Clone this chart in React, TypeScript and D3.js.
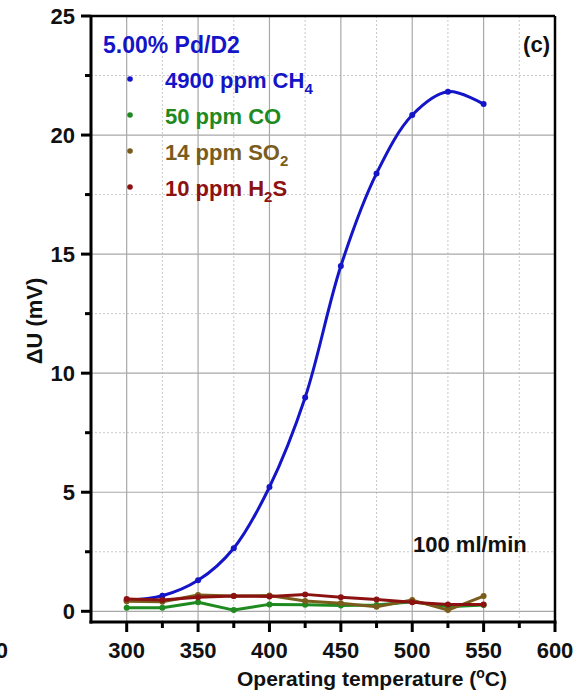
import React from "react";
import * as d3 from "d3";

const temps = [300, 325, 350, 375, 400, 425, 450, 475, 500, 525, 550];
const ch4 = [0.45, 0.65, 1.3, 2.65, 5.22, 8.98, 14.5, 18.39, 20.84, 21.82, 21.3];
const co = [0.15, 0.15, 0.38, 0.05, 0.29, 0.27, 0.24, 0.26, 0.4, 0.19, 0.26];
const so2 = [0.42, 0.4, 0.68, 0.64, 0.66, 0.43, 0.34, 0.19, 0.47, 0.05, 0.64];
const h2s = [0.52, 0.47, 0.59, 0.64, 0.62, 0.71, 0.59, 0.5, 0.38, 0.29, 0.29];

const xTicks = [300, 350, 400, 450, 500, 550, 600];
const xMinor = [325, 375, 425, 475, 525, 575];
const yTicks = [0, 5, 10, 15, 20, 25];
const yMinor = [2.5, 7.5, 12.5, 17.5, 22.5];

const series = [
  { name: "4900 ppm CH", sub: "4", tail: "", values: ch4, color: "#1414c8", smooth: true },
  { name: "50 ppm CO", sub: "", tail: "", values: co, color: "#1f8a1f", smooth: false },
  { name: "14 ppm SO", sub: "2", tail: "", values: so2, color: "#7a5c1c", smooth: false },
  { name: "10 ppm H", sub: "2", tail: "S", values: h2s, color: "#8c1212", smooth: false },
];

const W = 588;
const H = 697;
const left = 91, right = 555, top = 16, bottom = 622;
const font = "'Liberation Sans', Arial, sans-serif";

export default function App() {
  const x = d3.scaleLinear().domain([275, 600]).range([left, right]);
  const y = d3.scaleLinear().domain([-0.45, 25]).range([bottom, top]);

  const drawOrder = [0, 1, 2, 3];

  return (
    <svg width={W} height={H} style={{ position: "absolute", left: 0, top: 0, background: "#fff" }}
      fontFamily={font} fontWeight="bold">
      {/* grid */}
      {xMinor.map(t => (
        <line key={"xm" + t} x1={x(t)} x2={x(t)} y1={top} y2={bottom} stroke="#c8c8c8" strokeWidth={1} strokeDasharray="2,2" />
      ))}
      {yMinor.map(t => (
        <line key={"ym" + t} x1={left} x2={right} y1={y(t)} y2={y(t)} stroke="#c8c8c8" strokeWidth={1} strokeDasharray="2,2" />
      ))}
      {xTicks.filter(t => t < 600).map(t => (
        <line key={"xg" + t} x1={x(t)} x2={x(t)} y1={top} y2={bottom} stroke="#a8a8a8" strokeWidth={1.2} />
      ))}
      {yTicks.filter(t => t < 25).map(t => (
        <line key={"yg" + t} x1={left} x2={right} y1={y(t)} y2={y(t)} stroke="#a8a8a8" strokeWidth={1.2} />
      ))}

      {/* series */}
      {drawOrder.map(i => {
        const s = series[i];
        const pts: [number, number][] = temps.map((t, j) => [x(t), y(s.values[j])]);
        const line = d3.line().curve(s.smooth ? d3.curveCatmullRom.alpha(0.5) : d3.curveLinear)(pts) || "";
        return (
          <g key={"s" + i}>
            <path d={line} fill="none" stroke={s.color} strokeWidth={3} strokeLinejoin="round" />
            {pts.map((p, j) => (
              <circle key={j} cx={p[0]} cy={p[1]} r={3} fill={s.color} />
            ))}
          </g>
        );
      })}

      {/* frame */}
      <line x1={left} x2={right} y1={top} y2={top} stroke="#000" strokeWidth={2.5} />
      <line x1={right} x2={right} y1={top} y2={bottom} stroke="#000" strokeWidth={2.5} />
      <line x1={left} x2={left} y1={top - 1} y2={bottom + 1.5} stroke="#000" strokeWidth={3} />
      <line x1={left - 1.5} x2={right + 1.5} y1={bottom} y2={bottom} stroke="#000" strokeWidth={3} />

      {/* x ticks */}
      {xTicks.map(t => (
        <g key={"xt" + t}>
          <line x1={x(t)} x2={x(t)} y1={bottom} y2={bottom + 10} stroke="#000" strokeWidth={3} />
          <text x={x(t)} y={658} textAnchor="middle" fontSize={22} fill="#111">{t}</text>
        </g>
      ))}
      {xMinor.map(t => (
        <line key={"xmt" + t} x1={x(t)} x2={x(t)} y1={bottom} y2={bottom + 6} stroke="#000" strokeWidth={3} />
      ))}

      {/* y ticks */}
      {yTicks.map(t => (
        <g key={"yt" + t}>
          <line x1={left - 10} x2={left} y1={y(t)} y2={y(t)} stroke="#000" strokeWidth={3} />
          <text x={75} y={y(t) + 8} textAnchor="end" fontSize={22} fill="#111">{t}</text>
        </g>
      ))}
      {yMinor.map(t => (
        <line key={"ymt" + t} x1={left - 6} x2={left} y1={y(t)} y2={y(t)} stroke="#000" strokeWidth={3} />
      ))}

      {/* axis titles */}
      <text x={372} y={686} textAnchor="middle" fontSize={21} fill="#111">
        Operating temperature (<tspan fontSize={14} dy={-8}>o</tspan><tspan dy={8}>C)</tspan>
      </text>
      <text transform="translate(42,321) rotate(-90)" textAnchor="middle" fontSize={22} fill="#111">
        ΔU (mV)
      </text>

      {/* fragment of neighbouring panel */}
      <text x={8} y={658} textAnchor="end" fontSize={22} fill="#111">600</text>

      {/* annotations */}
      <text x={103} y={53} fontSize={23} fill="#1414c8">5.00% Pd/D2</text>
      <text x={550} y={52} textAnchor="end" fontSize={22} fill="#111">(c)</text>
      <text x={413} y={552} fontSize={22} fill="#111">100 ml/min</text>

      {/* legend */}
      {series.map((s, i) => {
        const ly = 80 + i * 36;
        return (
          <g key={"lg" + i}>
            <circle cx={130} cy={ly - 1} r={2.8} fill={s.color} />
            <text x={165} y={ly + 8} fontSize={22} fill={s.color}>
              {s.name}
              {s.sub && <tspan fontSize={15} dy={6}>{s.sub}</tspan>}
              {s.tail && <tspan dy={-6}>{s.tail}</tspan>}
            </text>
          </g>
        );
      })}
    </svg>
  );
}
